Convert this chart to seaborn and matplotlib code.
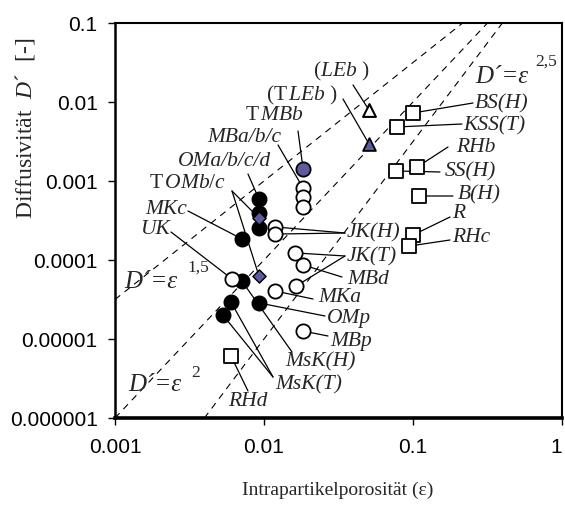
import numpy as np
import pandas as pd
import matplotlib
matplotlib.use("Agg")
import matplotlib.pyplot as plt
import seaborn as sns

# ---------------- data ----------------
black_x = [0.00925, 0.00925, 0.00925, 0.0071, 0.0071, 0.0060, 0.00925, 0.0053]
black_y = [5.9e-4, 3.94e-4, 2.54e-4, 1.85e-4, 5.42e-5, 2.94e-5, 2.86e-5, 2.01e-5]

open_x = [0.0183, 0.0183, 0.0183, 0.0119, 0.0119, 0.0161, 0.0183, 0.0164, 0.0119, 0.0061, 0.0183]
open_y = [8.15e-4, 6.27e-4, 4.69e-4, 2.62e-4, 2.13e-4, 1.23e-4, 8.65e-5, 4.69e-5, 4.05e-5, 5.75e-5, 1.26e-5]

blue_circ_x = [0.0183]
blue_circ_y = [1.42e-3]

blue_diam_x = [0.00925, 0.00925]
blue_diam_y = [3.4e-4, 6.27e-5]

sq_x = [0.100, 0.078, 0.0769, 0.1064, 0.1097, 0.100, 0.094, 0.0060]
sq_y = [7.26e-3, 4.83e-3, 1.34e-3, 1.50e-3, 6.46e-4, 2.07e-4, 1.50e-4, 6.1e-6]

tri_open_x = [0.0507]
tri_open_y = [7.9e-3]
tri_blue_x = [0.0507]
tri_blue_y = [2.94e-3]

exponents = [1.5, 2.0, 2.5]
x_ticks = [0.001, 0.01, 0.1, 1]
x_ticklabels = ["0.001", "0.01", "0.1", "1"]
y_ticks = [1e-6, 1e-5, 1e-4, 1e-3, 1e-2, 1e-1]
y_ticklabels = ["0.000001", "0.00001", "0.0001", "0.001", "0.01", "0.1"]

series = {
    "black": (black_x, black_y),
    "open": (open_x, open_y),
    "bcirc": (blue_circ_x, blue_circ_y),
    "bdiam": (blue_diam_x, blue_diam_y),
    "sq": (sq_x, sq_y),
    "tri": (tri_open_x, tri_open_y),
    "btri": (tri_blue_x, tri_blue_y),
}

# label text, text position (px, left / vertical centre), leader start (px), targets
labels = [
    (r"$\mathrm{(}\mathit{LEb}\ \mathrm{)}$", (313, 71), (353, 86), [("tri", 0)]),
    (r"$\mathrm{(T}\,\mathit{LEb}\ \mathrm{)}$", (266, 95), (343, 100), [("btri", 0)]),
    (r"$\mathrm{T}\,\mathit{MBb}$", (245, 115), (298, 132), [("bcirc", 0)]),
    ("MBa/b/c", (207, 137), (278, 146), [("open", 0)]),
    ("OMa/b/c/d", (178, 162), (248, 175), [("black", 0)]),
    (r"$\mathrm{T}\,\mathit{OMb/c}$", (149, 183), (232, 192), [("bdiam", 0), ("bdiam", 1)]),
    ("MKc", (145, 210), (188, 212), [("black", 3)]),
    ("UK", (140, 229), (171, 233), [("open", 9)]),
    ("JK(H)", (347, 233), (345, 234), [("open", 3), ("open", 4)]),
    ("JK(T)", (347, 257), (345, 257), [("open", 5), ("open", 7)]),
    ("MBd", (347, 280), (342, 278), [("open", 6)]),
    ("MKa", (318, 298), (313, 300), [("open", 8)]),
    ("OMp", (327, 319), (325, 317), [("black", 6)]),
    ("MBp", (330, 342), (328, 337), [("open", 10)]),
    ("MsK(H)", (285, 362), (292, 353), [("black", 4)]),
    ("MsK(T)", (275, 385), (273, 378), [("black", 5), ("black", 7)]),
    ("RHd", (228, 402), (248, 392), [("sq", 7)]),
    ("BS(H)", (475, 104), (473, 104), [("sq", 0)]),
    ("KSS(T)", (463, 126), (462, 125), [("sq", 1)]),
    ("RHb", (456, 148), (448, 148), [("sq", 3)]),
    ("SS(H)", (445, 172), (440, 173), [("sq", 2)]),
    ("B(H)", (458, 195), (453, 197), [("sq", 4)]),
    ("R", (452, 214), (450, 218), [("sq", 5)]),
    ("RHc", (452, 238), (450, 241), [("sq", 6)]),
]

# ---------------- figure ----------------
sns.set_theme(style="white")
plt.rcParams["font.family"] = ["Liberation Sans", "DejaVu Sans"]
plt.rcParams["mathtext.fontset"] = "custom"
plt.rcParams["mathtext.rm"] = "Liberation Serif"
plt.rcParams["mathtext.it"] = "Liberation Serif:italic"

W, H = 565, 506
fig = plt.figure(figsize=(W / 100, H / 100), dpi=100)
ax = fig.add_axes([115 / W, (H - 419) / H, 447 / W, 395 / H])


def fpx(x, y):
    return (x / W, 1 - y / H)


ax.set_xscale("log")
ax.set_yscale("log")
ax.set_xlim(0.001, 1)
ax.set_ylim(1e-6, 0.1)

# power-law reference lines
for p in exponents:
    xs = np.array([0.001, 1.0])
    df_line = pd.DataFrame({"x": xs, "y": xs ** p})
    sns.lineplot(data=df_line, x="x", y="y", ax=ax, color="black", lw=0.8,
                 linestyle=(0, (6, 5)), zorder=1)

mk_kw = dict(ax=ax, edgecolor="black", legend=False, zorder=4)
sns.scatterplot(x=black_x, y=black_y, marker="o", s=110, color="black", linewidth=1.0, **mk_kw)
sns.scatterplot(x=open_x, y=open_y, marker="o", s=105, color="white", linewidth=1.3, **mk_kw)
sns.scatterplot(x=blue_circ_x, y=blue_circ_y, marker="o", s=105, color="#5c5c9c", linewidth=1.3, **mk_kw)
sns.scatterplot(x=blue_diam_x, y=blue_diam_y, marker="D", s=45, color="#5c5c9c", linewidth=1.0, **mk_kw)
sns.scatterplot(x=sq_x, y=sq_y, marker="s", s=95, color="white", linewidth=1.3, **mk_kw)
sns.scatterplot(x=tri_open_x, y=tri_open_y, marker="^", s=85, color="white", linewidth=1.5, **mk_kw)
sns.scatterplot(x=tri_blue_x, y=tri_blue_y, marker="^", s=85, color="#5c5c9c", linewidth=1.3, **mk_kw)

# labels and leader lines
for text, tpos, lpos, targets in labels:
    fx, fy = fpx(*tpos)
    ax.text(fx, fy, text, transform=fig.transFigure, ha="left", va="center",
            fontsize=15.5, family="Liberation Serif", style="italic", zorder=5)
    for name, i in targets:
        xs, ys = series[name]
        ax.annotate("", xy=(xs[i], ys[i]), xycoords="data",
                    xytext=fpx(*lpos), textcoords="figure fraction",
                    arrowprops=dict(arrowstyle="-", lw=0.9, color="black",
                                    shrinkA=0, shrinkB=0), zorder=2)

# equation labels
for (tx, ty), (sx, sy), sup in [((475, 77), (546, 62), "2,5"),
                                ((124, 282), (198, 268), "1,5"),
                                ((128, 385), (196, 373), "2")]:
    fig.text(*fpx(tx, ty), "D\u00b4=\u03b5", ha="left", va="center", fontsize=18,
             style="italic", family="Liberation Serif")
    fig.text(*fpx(sx, sy), sup, ha="center", va="center", fontsize=12.5,
             family="Liberation Serif")

# axes styling
ax.xaxis.set_major_locator(matplotlib.ticker.FixedLocator(x_ticks))
ax.xaxis.set_major_formatter(matplotlib.ticker.FixedFormatter(x_ticklabels))
ax.yaxis.set_major_locator(matplotlib.ticker.FixedLocator(y_ticks))
ax.yaxis.set_major_formatter(matplotlib.ticker.FixedFormatter(y_ticklabels))
ax.xaxis.set_minor_locator(matplotlib.ticker.NullLocator())
ax.yaxis.set_minor_locator(matplotlib.ticker.NullLocator())
ax.tick_params(axis="both", which="major", direction="out", length=5, width=1.0,
               color="black", labelsize=15, labelcolor="black",
               bottom=True, left=True, top=False, right=False)
ax.tick_params(axis="x", pad=9)
ax.tick_params(axis="y", pad=7.5)
for side, lw in [("bottom", 2.6), ("left", 1.8), ("top", 1.5), ("right", 1.5)]:
    ax.spines[side].set_visible(True)
    ax.spines[side].set_color("black")
    ax.spines[side].set_linewidth(lw)
ax.grid(False)

fig.canvas.draw()
ax.get_xticklabels()[-1].set_horizontalalignment("right")

ax.set_xlabel("Intrapartikelporosität (\u03b5)", family="Liberation Serif", fontsize=14)
ax.xaxis.label.set_va("center")
ax.xaxis.set_label_coords((338 - 115) / 447, (419 - 490) / 395)
ax.set_ylabel("Diffusivität  $\\mathit{D}$´  [-]", family="Liberation Serif", fontsize=17)
ax.yaxis.label.set_va("center")
ax.yaxis.set_label_coords((25 - 115) / 447, (419 - 128) / 395)

fig.savefig("out.png", dpi=100)
